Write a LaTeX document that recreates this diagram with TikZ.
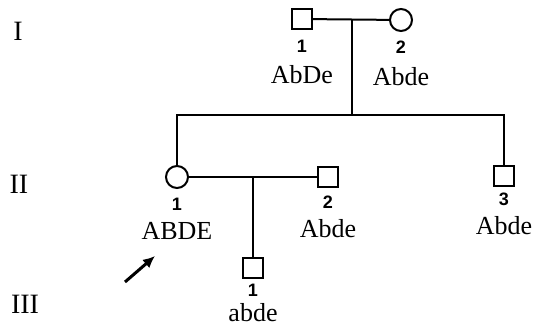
\documentclass[tikz,border=0pt]{standalone}
\usepackage{fontspec}
\setmainfont{Liberation Serif}
\setsansfont{Liberation Sans}
\usetikzlibrary{arrows.meta, positioning}
\tikzset{
  male/.style={draw, line width=2pt, minimum size=20pt, inner sep=0pt},
  female/.style={draw, circle, line width=2pt, minimum size=22pt, inner sep=0pt},
  idnum/.style={font=\sffamily\bfseries\fontsize{18}{19}\selectfont, inner sep=0pt},
  geno/.style={font=\fontsize{26}{28}\selectfont, inner sep=0pt},
  gen/.style={font=\fontsize{28}{30}\selectfont, inner sep=0pt},
  line/.style={line width=2pt},
  proband/.style={-{Latex[length=12pt, width=11pt]}, line width=3pt}
}
\begin{document}
\begin{tikzpicture}[x=1pt, y=-1pt]
    \useasboundingbox (0,0) rectangle (542,329);
    % generations
    \node[gen] (gI) at (18,31) {I};
    \node[gen] (gII) at (19,184) {II};
    \node[gen] (gIII) at (25,304) {III};

    % generation I
    \node[male] (I1) at (302,19) {};
    \node[female] (I2) at (401,20) {};
    \node[idnum, below=10pt of I1] (nI1) {1};
    \node[geno, below=12pt of nI1] (tI1) {AbDe};
    \node[idnum, below=9pt of I2] (nI2) {2};
    \node[geno, below=13pt of nI2] (tI2) {Abde};

    % generation II
    \node[female] (II1) at (177,177) {};
    \node[male] (II2) at (328,177) {};
    \node[male] (II3) at (504,176) {};
    \node[idnum, below=9pt of II1] (nII1) {1};
    \node[geno, below=11pt of nII1] (tII1) {ABDE};
    \node[idnum, below=8pt of II2] (nII2) {2};
    \node[geno, below=10pt of nII2] (tII2) {Abde};
    \node[idnum, below=6pt of II3] (nII3) {3};
    \node[geno, below=10pt of nII3] (tII3) {Abde};

    % generation III
    \node[male] (III1) at (253,268) {};
    \node[idnum, below=5pt of III1] (nIII1) {1};
    \node[geno, below=6pt of nIII1] (tIII1) {abde};

    % lines of descent
    \coordinate (m1) at (352,20);
    \coordinate (sib1) at (352,115);
    \coordinate (m2) at (253,177);
    \draw[line] (I1) -- (I2);
    \draw[line] (m1) -- (sib1);
    \draw[line] (II1.north) -- (II1.north |- sib1) -- (II3.north |- sib1) -- (II3.north);
    \draw[line] (II1) -- (II2);
    \draw[line] (m2) -- (III1.north);

    % proband
    \coordinate (ptail) at (125,282);
    \coordinate (phead) at (155,256);
    \draw[proband] (ptail) -- (phead);
\end{tikzpicture}
\end{document}
